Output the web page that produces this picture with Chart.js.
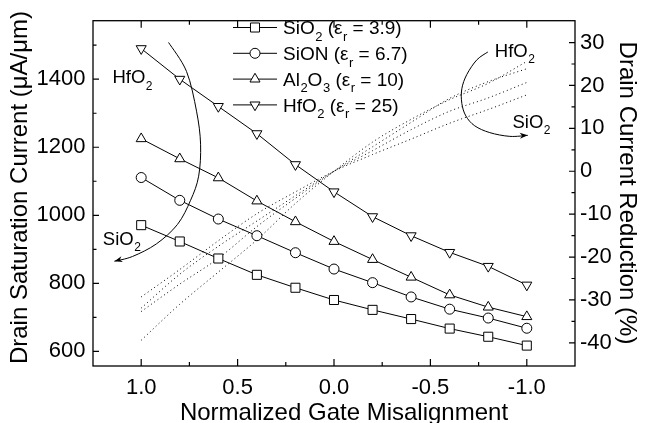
<!DOCTYPE html>
<html><head><meta charset="utf-8">
<script src="https://cdn.jsdelivr.net/npm/chart.js@4.4.1/dist/chart.umd.min.js"></script>
<style>html,body{margin:0;padding:0;background:#fff;}#wrap{width:645px;height:423px;position:relative;}</style>
</head><body><div id="wrap"><canvas id="c" width="645" height="423"></canvas></div>
<script>
// ---- data ----
const misalignment = [1.0, 0.8, 0.6, 0.4, 0.2, 0.0, -0.2, -0.4, -0.6, -0.8, -1.0];
const idsatSiO2  = [971, 923, 873, 825, 787, 751, 722, 695, 667, 643, 617];
const idsatSiON  = [1111, 1044, 989, 940, 890, 842, 802, 760, 724, 698, 668];
const idsatAl2O3 = [1225, 1166, 1110, 1042, 981, 923, 870, 818, 766, 730, 702];
const idsatHfO2  = [1490, 1400, 1320, 1240, 1149, 1069, 996, 940, 891, 850, 795];
const reductionSiO2  = [-29.3, -22.9, -16.2, -9.9, -4.8, 0, 3.9, 7.5, 11.2, 14.4, 17.8];
const reductionSiON  = [-31.9, -24.0, -17.5, -11.6, -5.7, 0, 4.8, 9.7, 14.0, 17.1, 20.7];
const reductionAl2O3 = [-32.7, -26.3, -20.3, -12.9, -6.3, 0, 5.7, 11.4, 17.0, 20.9, 23.9];
const reductionHfO2  = [-39.4, -31.0, -23.5, -16.0, -7.5, 0, 6.8, 12.1, 16.7, 20.5, 25.6];
const seriesNames = ['SiO_{2} (ε_{r} = 3.9)', 'SiON (ε_{r} = 6.7)', 'Al_{2}O_{3} (ε_{r} = 10)', 'HfO_{2} (ε_{r} = 25)'];
const xTicks = [1.0, 0.5, 0.0, -0.5, -1.0];
const xMinorTicks = [0.75, 0.25, -0.25, -0.75];
const leftTicks = [600, 800, 1000, 1200, 1400];
const leftMinorTicks = [700, 900, 1100, 1300, 1500];
const rightTicks = [30, 20, 10, 0, -10, -20, -30, -40];
const rightMinorTicks = [25, 15, 5, -5, -15, -25, -35];
const xTitle = 'Normalized Gate Misalignment';
const leftTitle = 'Drain Saturation Current (μA/μm)';
const rightTitle = 'Drain Current Reduction (%)';
// annotation arcs in (misalignment, left-axis current) coordinates
const leftArc = [[0.858,1508],[0.765,1423],[0.713,1306],[0.692,1209],[0.702,1115],[0.744,1044],[0.812,973],[0.921,916],[1.045,879],[1.139,865]];
const rightArc = [[-0.798,1480],[-0.741,1457],[-0.689,1414],[-0.663,1372],[-0.663,1329],[-0.684,1292],[-0.730,1263],[-0.808,1243],[-0.912,1232],[-1.005,1235]];
const arcLabels = [
  {text:'HfO_{2}', x:1.149, y:1388},
  {text:'SiO_{2}', x:1.199, y:914},
  {text:'HfO_{2}', x:-0.834, y:1466},
  {text:'SiO_{2}', x:-0.926, y:1257}
];

const FONT = '"Liberation Sans", Arial, Helvetica, sans-serif';
const pts = arr => misalignment.map((x, i) => ({x: x, y: arr[i]}));

const markerStyles = [
  {pointStyle:'rect', radius:6.4, rotation:0},
  {pointStyle:'circle', radius:5, rotation:0},
  {pointStyle:'triangle', radius:5.8, rotation:0},
  {pointStyle:'triangle', radius:5.8, rotation:180}
];
const solid = [idsatSiO2, idsatSiON, idsatAl2O3, idsatHfO2];
const dotted = [reductionSiO2, reductionSiON, reductionAl2O3, reductionHfO2];

const datasets = [];
solid.forEach((arr, i) => {
  datasets.push({
    label: seriesNames[i].replace(/_\{([^}]*)\}/g, '$1'),
    data: pts(arr), yAxisID: 'y', borderColor: '#000', borderWidth: 1,
    pointStyle: markerStyles[i].pointStyle, pointRadius: markerStyles[i].radius,
    pointRotation: markerStyles[i].rotation, pointBackgroundColor: '#fff',
    pointBorderColor: '#000', pointBorderWidth: 1, tension: 0, fill: false
  });
});
dotted.forEach((arr, i) => {
  datasets.push({
    label: 'reduction ' + i, data: pts(arr), yAxisID: 'y2', borderColor: '#000',
    borderWidth: 1, borderDash: [1, 3], pointRadius: 0, cubicInterpolationMode: 'monotone', fill: false
  });
});

function parseRich(t) {
  const segs = []; const re = /_\{([^}]*)\}/g; let last = 0, m;
  while ((m = re.exec(t)) !== null) {
    if (m.index > last) segs.push({s: t.slice(last, m.index), sub: false});
    segs.push({s: m[1], sub: true}); last = re.lastIndex;
  }
  if (last < t.length) segs.push({s: t.slice(last), sub: false});
  return segs;
}
function drawRich(ctx, t, x, y, size) {
  const segs = parseRich(t); const subSize = Math.round(size * 0.66);
  ctx.textAlign = 'left'; ctx.textBaseline = 'alphabetic';
  let cx = x;
  segs.forEach(sg => {
    if (sg.sub) { ctx.font = subSize + 'px ' + FONT; ctx.fillText(sg.s, cx + 0.5, y + size * 0.34); cx += ctx.measureText(sg.s).width + 0.5; }
    else { ctx.font = size + 'px ' + FONT; ctx.fillText(sg.s, cx, y); cx += ctx.measureText(sg.s).width; }
  });
}
function smoothPath(ctx, p) {
  ctx.moveTo(p[0][0], p[0][1]);
  for (let i = 0; i < p.length - 1; i++) {
    const p0 = p[i - 1] || p[i], p1 = p[i], p2 = p[i + 1], p3 = p[i + 2] || p2;
    ctx.bezierCurveTo(p1[0] + (p2[0] - p0[0]) / 6, p1[1] + (p2[1] - p0[1]) / 6,
                      p2[0] - (p3[0] - p1[0]) / 6, p2[1] - (p3[1] - p1[1]) / 6, p2[0], p2[1]);
  }
}
function drawArrow(ctx, chart, arc) {
  const xs = chart.scales.x, ys = chart.scales.y;
  const p = arc.map(a => [xs.getPixelForValue(a[0]), ys.getPixelForValue(a[1])]);
  ctx.beginPath(); smoothPath(ctx, p); ctx.lineWidth = 1; ctx.strokeStyle = '#000'; ctx.stroke();
  const e = p[p.length - 1], b = p[p.length - 2];
  const ang = Math.atan2(e[1] - b[1], e[0] - b[0]);
  const L = 8, W = 3;
  ctx.beginPath();
  ctx.moveTo(e[0], e[1]);
  ctx.lineTo(e[0] - L * Math.cos(ang) + W * Math.sin(ang), e[1] - L * Math.sin(ang) - W * Math.cos(ang));
  ctx.lineTo(e[0] - L * 0.7 * Math.cos(ang), e[1] - L * 0.7 * Math.sin(ang));
  ctx.lineTo(e[0] - L * Math.cos(ang) - W * Math.sin(ang), e[1] - L * Math.sin(ang) + W * Math.cos(ang));
  ctx.closePath(); ctx.fillStyle = '#000'; ctx.fill();
}

const decor = {
  id: 'decor',
  afterDraw(chart) {
    const ctx = chart.ctx, a = chart.chartArea;
    const xs = chart.scales.x, ys = chart.scales.y, y2 = chart.scales.y2;
    ctx.save();
    ctx.strokeStyle = '#000'; ctx.fillStyle = '#000';
    ctx.lineWidth = 1.3;
    ctx.strokeRect(a.left, a.top, a.right - a.left, a.bottom - a.top);
    ctx.lineWidth = 1.2; ctx.beginPath();
    const tx = (v, len) => { const px = xs.getPixelForValue(v);
      ctx.moveTo(px, a.bottom); ctx.lineTo(px, a.bottom - len);
      ctx.moveTo(px, a.top); ctx.lineTo(px, a.top + len); };
    xTicks.forEach(v => tx(v, 7)); xMinorTicks.forEach(v => tx(v, 4));
    const tl = (v, len) => { const py = ys.getPixelForValue(v); ctx.moveTo(a.left, py); ctx.lineTo(a.left + len, py); };
    leftTicks.forEach(v => tl(v, 6)); leftMinorTicks.forEach(v => tl(v, 3.5));
    const tr = (v, len) => { const py = y2.getPixelForValue(v); ctx.moveTo(a.right, py); ctx.lineTo(a.right - len, py); };
    rightTicks.forEach(v => tr(v, 6)); rightMinorTicks.forEach(v => tr(v, 3.5));
    ctx.stroke();
    ctx.font = '24px ' + FONT; ctx.textAlign = 'center'; ctx.textBaseline = 'alphabetic';
    ctx.fillText(xTitle, 344, 420);
    ctx.save(); ctx.translate(27.2, 187.5); ctx.rotate(-Math.PI / 2); ctx.fillText(leftTitle, 0, 0); ctx.restore();
    ctx.save(); ctx.translate(620, 193); ctx.rotate(Math.PI / 2); ctx.fillText(rightTitle, 0, 0); ctx.restore();
    const lx0 = 233, lx1 = 277, mx = 255, textX = 283;
    seriesNames.forEach((name, i) => {
      const ry = 27.5 + i * 25.8;
      ctx.beginPath(); ctx.lineWidth = 1; ctx.strokeStyle = '#000'; ctx.moveTo(lx0, ry); ctx.lineTo(lx1, ry); ctx.stroke();
      const ms = markerStyles[i];
      ctx.fillStyle = '#fff'; ctx.strokeStyle = '#000'; ctx.lineWidth = 1;
      Chart.helpers.drawPoint(ctx, {pointStyle: ms.pointStyle, radius: ms.radius, rotation: ms.rotation, borderWidth: 1}, mx, ry);
      ctx.fillStyle = '#000';
      drawRich(ctx, name, textX, ry + 6.8, 19);
    });
    drawArrow(ctx, chart, leftArc); drawArrow(ctx, chart, rightArc);
    ctx.fillStyle = '#000';
    arcLabels.forEach(l => drawRich(ctx, l.text, xs.getPixelForValue(l.x), ys.getPixelForValue(l.y), 18.5));
    ctx.restore();
  }
};

const tickFont = {family: FONT, size: 22};
new Chart(document.getElementById('c'), {
  type: 'line',
  data: {datasets: datasets},
  options: {
    responsive: false, animation: false, devicePixelRatio: 1,
    layout: {padding: {top: 9.5, left: 0, right: 0, bottom: 0}},
    plugins: {legend: {display: false}, tooltip: {enabled: false}},
    scales: {
      x: {
        type: 'linear', position: 'bottom', reverse: true, min: -1.25, max: 1.25,
        grid: {display: false, drawTicks: false}, border: {display: false},
        ticks: {font: tickFont, color: '#000', padding: 9, maxRotation: 0, autoSkip: false,
                callback: v => (Math.abs(v) < 1e-9 ? 0 : v).toFixed(1)},
        afterBuildTicks: s => { s.ticks = xTicks.map(v => ({value: v})); },
        afterFit: s => { s.height = 57; }
      },
      y: {
        type: 'linear', position: 'left', min: 557, max: 1572,
        grid: {display: false, drawTicks: false}, border: {display: false},
        ticks: {font: tickFont, color: '#000', padding: 7.5, autoSkip: false, callback: v => String(v)},
        afterBuildTicks: s => { s.ticks = leftTicks.map(v => ({value: v})); },
        afterFit: s => { s.width = 93; }
      },
      y2: {
        type: 'linear', position: 'right', min: -45.4, max: 35.1,
        grid: {display: false, drawTicks: false}, border: {display: false},
        ticks: {font: tickFont, color: '#000', padding: 5, autoSkip: false, callback: v => String(v)},
        afterBuildTicks: s => { s.ticks = rightTicks.map(v => ({value: v})); },
        afterFit: s => { s.width = 70; }
      }
    }
  },
  plugins: [decor]
});
</script></body></html>
